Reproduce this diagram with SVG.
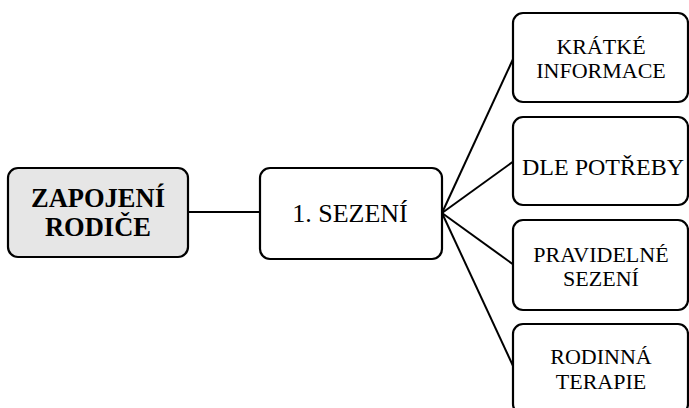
<svg xmlns="http://www.w3.org/2000/svg" width="689" height="408" viewBox="0 0 689 408">
<style>
.box{fill:#ffffff;stroke:#000000;stroke-width:2.2}
.root{fill:#e6e6e6}
.t{font-family:"Liberation Serif","Times New Roman",serif;fill:#000;text-anchor:middle}
.s{font-size:22px}
.conn line{stroke:#000;stroke-width:2}
</style>
<rect width="689" height="408" fill="#ffffff"/>
<g id="connectors" class="conn">
<line x1="188" y1="212" x2="260" y2="212"/>
<line x1="442" y1="213" x2="514" y2="57"/>
<line x1="442" y1="213" x2="514" y2="161"/>
<line x1="442" y1="213" x2="514" y2="265"/>
<line x1="442" y1="213" x2="514" y2="368"/>
</g>
<g id="node-root">
<rect class="box root" x="8" y="168" width="180" height="89" rx="10"/>
<text class="t" font-size="26.5" font-weight="bold"><tspan x="98" y="207">ZAPOJENÍ</tspan><tspan x="98" y="236">RODIČE</tspan></text>
</g>
<g id="node-sezeni">
<rect class="box" x="260" y="168" width="182" height="91" rx="10"/>
<text class="t" x="350" y="222" font-size="26">1. SEZENÍ</text>
</g>
<g id="node-kratke">
<rect class="box" x="513" y="13" width="175" height="89" rx="10"/>
<text class="t s"><tspan x="601" y="53.5">KRÁTKÉ</tspan><tspan x="601" y="78">INFORMACE</tspan></text>
</g>
<g id="node-potreby">
<rect class="box" x="513" y="117" width="175" height="88" rx="10"/>
<text class="t" font-size="24" x="603" y="175">DLE POTŘEBY</text>
</g>
<g id="node-pravidelne">
<rect class="box" x="513" y="220" width="175" height="90" rx="10"/>
<text class="t s"><tspan x="601" y="261.5">PRAVIDELNÉ</tspan><tspan x="601" y="286">SEZENÍ</tspan></text>
</g>
<g id="node-rodinna">
<rect class="box" x="513" y="324" width="175" height="90" rx="10"/>
<text class="t s"><tspan x="601" y="364">RODINNÁ</tspan><tspan x="601" y="388.5">TERAPIE</tspan></text>
</g>
</svg>
